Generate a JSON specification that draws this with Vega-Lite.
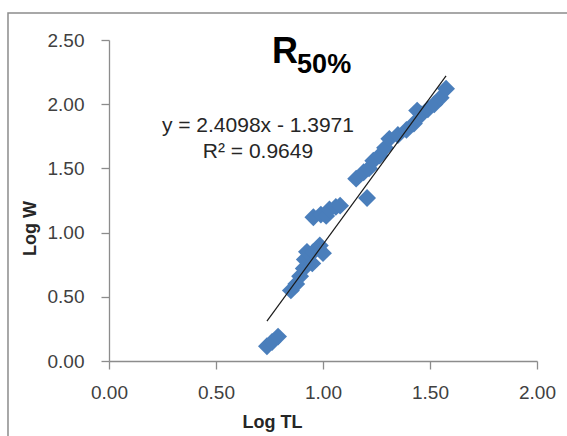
{
  "$schema": "https://vega.github.io/schema/vega-lite/v6.json",
  "width": 428,
  "height": 321,
  "autosize": {"type": "none"},
  "padding": {"left": 109, "top": 40, "right": 30, "bottom": 75},
  "background": "white",
  "config": {
    "view": {"stroke": null},
    "font": "Liberation Sans",
    "axis": {
      "grid": false,
      "domainColor": "#8c8c8c",
      "tickColor": "#8c8c8c",
      "tickSize": 8,
      "domainWidth": 1.3,
      "tickWidth": 1.3,
      "labelFlush": false,
      "labelFont": "Liberation Sans",
      "labelFontSize": 19,
      "labelColor": "#404040",
      "labelPadding": 14,
      "titleFont": "Liberation Sans",
      "titleFontSize": 18,
      "titleFontWeight": "bold",
      "titleColor": "#262626"
    }
  },
  "datasets": {
    "pts": [
      {"logTL": 0.738, "logW": 0.115},
      {"logTL": 0.762, "logW": 0.148},
      {"logTL": 0.79, "logW": 0.19},
      {"logTL": 0.85, "logW": 0.55},
      {"logTL": 0.875, "logW": 0.6},
      {"logTL": 0.893, "logW": 0.66},
      {"logTL": 0.91, "logW": 0.72},
      {"logTL": 0.915, "logW": 0.79},
      {"logTL": 0.95, "logW": 0.76},
      {"logTL": 0.925, "logW": 0.85},
      {"logTL": 0.955, "logW": 0.85},
      {"logTL": 0.985, "logW": 0.9},
      {"logTL": 1.0, "logW": 0.84},
      {"logTL": 0.955, "logW": 1.12},
      {"logTL": 0.99, "logW": 1.14},
      {"logTL": 1.015, "logW": 1.13},
      {"logTL": 1.03, "logW": 1.18},
      {"logTL": 1.06, "logW": 1.2},
      {"logTL": 1.08, "logW": 1.21},
      {"logTL": 1.206, "logW": 1.27},
      {"logTL": 1.155, "logW": 1.42},
      {"logTL": 1.19, "logW": 1.47},
      {"logTL": 1.215, "logW": 1.5},
      {"logTL": 1.235, "logW": 1.56},
      {"logTL": 1.265, "logW": 1.6},
      {"logTL": 1.29, "logW": 1.66},
      {"logTL": 1.31, "logW": 1.73},
      {"logTL": 1.35, "logW": 1.76},
      {"logTL": 1.39, "logW": 1.8},
      {"logTL": 1.425, "logW": 1.85},
      {"logTL": 1.44, "logW": 1.95},
      {"logTL": 1.46, "logW": 1.92},
      {"logTL": 1.49, "logW": 1.96},
      {"logTL": 1.52, "logW": 2.0},
      {"logTL": 1.55, "logW": 2.05},
      {"logTL": 1.575, "logW": 2.12}
    ],
    "trend": [
      {"logTL": 0.738, "logW": 0.31},
      {"logTL": 1.575, "logW": 2.22}
    ]
  },
  "layer": [
    {
      "data": {"name": "pts"},
      "mark": {"type": "point", "shape": "diamond", "filled": true, "size": 320, "color": "#4A7EBB", "opacity": 1},
      "encoding": {
        "x": {"field": "logTL", "type": "quantitative",
              "scale": {"domain": [0, 2], "nice": false, "zero": false},
              "axis": {"values": [0, 0.5, 1, 1.5, 2], "format": ".2f", "title": "Log TL",
                       "titleX": 163, "titleY": 66, "titleBaseline": "alphabetic", "titleAnchor": "start", "titleAlign": "center"}},
        "y": {"field": "logW", "type": "quantitative",
              "scale": {"domain": [0, 2.5], "nice": false, "zero": false},
              "axis": {"values": [0, 0.5, 1, 1.5, 2, 2.5], "format": ".2f", "title": "Log W", "labelPadding": 17,
                       "titleX": -74, "titleY": 188, "titleAngle": 270, "titleBaseline": "alphabetic", "titleAlign": "center", "titleAnchor": "start"}}
      }
    },
    {
      "data": {"name": "trend"},
      "mark": {"type": "line", "color": "#1a1a1a", "strokeWidth": 1.2},
      "encoding": {
        "x": {"field": "logTL", "type": "quantitative"},
        "y": {"field": "logW", "type": "quantitative"}
      }
    },
    {
      "data": {"values": [{}]},
      "mark": {"type": "rect", "fill": null, "stroke": "#8c8c8c", "strokeWidth": 1.5},
      "encoding": {
        "x": {"datum": -0.472},
        "x2": {"datum": 2.4},
        "y": {"datum": 2.71},
        "y2": {"datum": -0.9}
      }
    },
    {
      "data": {"values": [{}]},
      "mark": {"type": "text", "text": "R", "fontSize": 36, "fontWeight": "bold", "align": "center", "baseline": "alphabetic", "color": "#000000"},
      "encoding": {"x": {"datum": 0.822}, "y": {"datum": 2.32}}
    },
    {
      "data": {"values": [{}]},
      "mark": {"type": "text", "text": "50%", "fontSize": 27, "fontWeight": "bold", "align": "left", "baseline": "alphabetic", "color": "#000000"},
      "encoding": {"x": {"datum": 0.879}, "y": {"datum": 2.243}}
    },
    {
      "data": {"values": [{}]},
      "mark": {"type": "text", "text": "y = 2.4098x - 1.3971", "fontSize": 21, "align": "center", "baseline": "alphabetic", "color": "#262626"},
      "encoding": {"x": {"datum": 0.696}, "y": {"datum": 1.783}}
    },
    {
      "data": {"values": [{}]},
      "mark": {"type": "text", "text": "R² = 0.9649", "fontSize": 21, "align": "center", "baseline": "alphabetic", "color": "#262626"},
      "encoding": {"x": {"datum": 0.696}, "y": {"datum": 1.581}}
    }
  ]
}
